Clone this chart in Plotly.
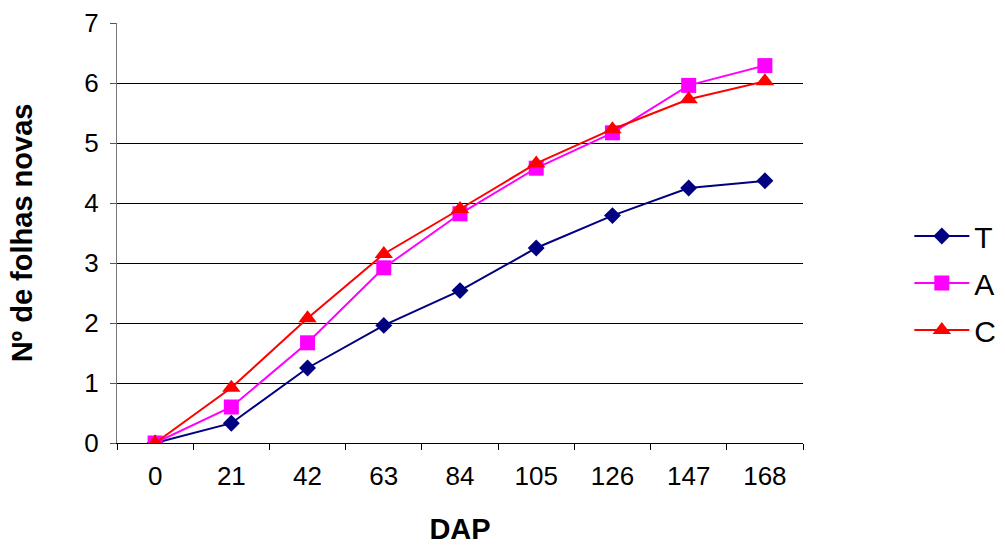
import plotly.graph_objects as go

dap = ["0", "21", "42", "63", "84", "105", "126", "147", "168"]
t_vals = [0, 0.33, 1.25, 1.96, 2.54, 3.25, 3.79, 4.25, 4.37]
a_vals = [0, 0.60, 1.67, 2.92, 3.82, 4.58, 5.17, 5.96, 6.29]
c_vals = [0, 0.92, 2.08, 3.15, 3.90, 4.66, 5.23, 5.73, 6.03]

FONT = "Liberation Sans, Arial, sans-serif"

fig = go.Figure()
fig.add_trace(go.Scatter(x=dap, y=t_vals, name="T", mode="lines+markers", legendgroup="t",
                         line=dict(color="#000080", width=2),
                         marker=dict(symbol="diamond", size=13, color="#000080")))
fig.add_trace(go.Scatter(x=dap, y=a_vals, name="A", mode="lines+markers", legendgroup="a",
                         line=dict(color="#FF00FF", width=2),
                         marker=dict(symbol="square", size=15, color="#FF00FF")))
fig.add_trace(go.Scatter(x=dap, y=c_vals, name="C", mode="lines+markers", legendgroup="c",
                         line=dict(color="#FF0000", width=2),
                         marker=dict(symbol="triangle-up", size=16, color="#FF0000")))

fig.update_layout(
    width=1005, height=545,
    margin=dict(l=117, r=202, t=23, b=102, autoexpand=False),
    paper_bgcolor="white", plot_bgcolor="white",
    font=dict(family=FONT, size=26, color="black"),
    showlegend=True,
    legend=dict(x=1.155, y=0.381, xanchor="left", yanchor="middle",
                font=dict(size=30), itemwidth=55, tracegroupgap=5,
                bgcolor="rgba(0,0,0,0)"),
    xaxis=dict(type="category", range=[-0.5, 8.5], tickson="boundaries",
               ticks="outside", ticklen=6, tickcolor="black",
               ticklabelstandoff=10,
               showline=True, linecolor="black", linewidth=1,
               showgrid=False, zeroline=False,
               title=dict(text="<b>DAP</b>", font=dict(size=29), standoff=30)),
    yaxis=dict(range=[0, 7], dtick=1, tick0=0,
               ticks="outside", ticklen=6, tickcolor="#555",
               ticklabelstandoff=6,
               showline=True, linecolor="#777", linewidth=1,
               showgrid=True, gridcolor="black", gridwidth=1,
               zeroline=False,
               title=dict(text="<b>Nº de folhas novas</b>", font=dict(size=29), standoff=43)),
)

fig.write_html("out.html")
